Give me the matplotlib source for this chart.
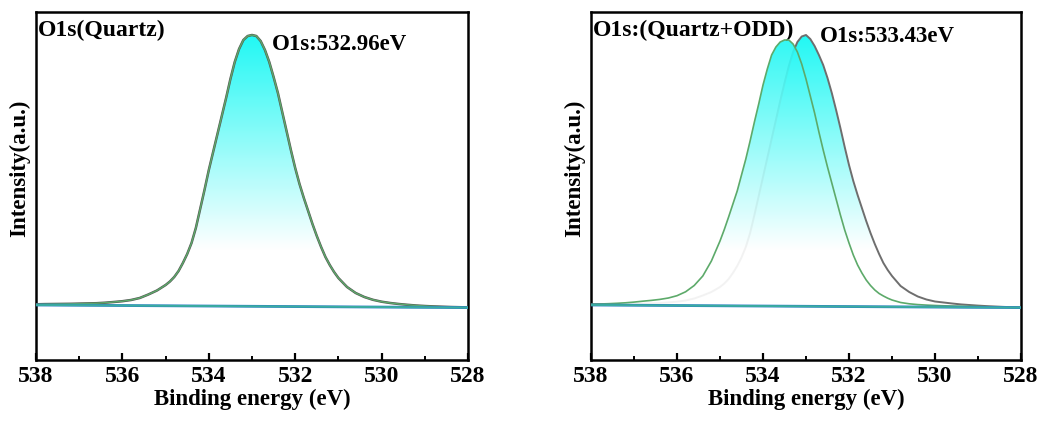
import numpy as np
import matplotlib
matplotlib.use("Agg")
import matplotlib.pyplot as plt
from matplotlib.patches import Polygon
from matplotlib.colors import LinearSegmentedColormap
from matplotlib.ticker import MultipleLocator

plt.rcParams['font.family'] = ['Liberation Serif', 'DejaVu Serif']
plt.rcParams['font.weight'] = 'bold'

# Binding energy grid (eV): 0.2 eV in the tails, 0.1 eV across the peak region
energy = np.concatenate([
    np.round(np.arange(538.0, 535.1, -0.2), 1),   # 538.0 .. 535.2
    np.round(np.arange(535.0, 530.95, -0.1), 1),  # 535.0 .. 531.0
    np.round(np.arange(530.8, 527.9, -0.2), 1),   # 530.8 .. 528.0
])

# Quartz O1s (left panel)
quartz = [0.7, 0.9, 1.0, 1.1, 1.2, 1.4, 1.6, 1.8, 2.3, 3.0, 3.8, 5.0, 7.0, 10.5, 14.5,
          20, 23.5, 28, 34, 42, 51, 62, 77, 96, 115,
          135, 153, 171, 189, 207, 226, 243, 256, 265, 269,
          270, 269, 264, 255, 243, 228, 212, 193, 174, 155,
          137, 121, 107, 94, 81, 69, 58, 48, 40, 33, 27,
          18, 12, 8, 5.2, 3.3, 2.0, 1.0, 0.2, -0.5, -1.0, -1.4, -1.7, -2.0, -2.2, -2.4]

# Quartz+ODD panel: grey curve (~533.0 eV)
odd_grey = [0.7, 0.8, 0.9, 1.0, 1.1, 1.2, 1.4, 1.6, 2.0, 2.6, 3.3, 4.5, 6.5, 9.5, 13,
            18, 21.5, 26, 32, 39, 47.5, 58, 72, 90, 109,
            128, 147, 166, 185, 204, 222, 239, 253, 263, 268.5,
            270, 266, 259, 250, 240, 227, 212, 195, 177, 158,
            140, 124, 110, 97, 84, 72, 61, 51, 42, 35, 29,
            19, 13, 8.5, 5.5, 3.5, 2.5, 1.5, 0.6, 0.0, -0.6, -1.1, -1.5, -1.9, -2.2, -2.4]

# Quartz+ODD panel: green curve (533.43 eV)
odd_green = [0.8, 1.0, 1.3, 1.7, 2.2, 2.9, 3.8, 4.6, 5.6, 7.0, 9.3, 13.2, 19.5, 29, 44,
             64, 75.5, 88, 101, 114, 130, 146, 164, 183, 201,
             220, 236, 250, 258, 263, 265, 265, 261, 253, 241,
             226, 209, 192, 173, 155, 138, 122, 106, 90, 75,
             62, 50, 40, 32, 25, 19.5, 15, 11.5, 9, 6.8, 5,
             2.5, 1.2, 0.4, -0.1, -0.5, -0.8, -1.0, -1.2, -1.4, -1.6, -1.8, -2.0, -2.1, -2.3, -2.4]

# linear background
bg_x = [538.0, 528.0]
bg_y = [0.0, -2.6]

CYAN = '#22F8F4'
GREY = '#555555'
GREEN = '#5DAA6A'
TEAL = '#3AAE9E'


def gradient_fill(ax, x, y, alpha=1.0, zorder=1):
    x = np.asarray(x)
    y = np.asarray(y)
    base = np.interp(x, bg_x[::-1], bg_y[::-1])
    verts = np.vstack([np.column_stack([x, y]), np.column_stack([x[::-1], base[::-1]])])
    poly = Polygon(verts, closed=True, facecolor='none', edgecolor='none')
    ax.add_patch(poly)
    ymax = y.max()
    h = np.linspace(0, ymax, 300)
    t = np.clip((h - 55) / (ymax - 55), 0, 1).reshape(-1, 1)
    cmap = LinearSegmentedColormap.from_list('cw', ['white', CYAN])
    im = ax.imshow(t, cmap=cmap, vmin=0, vmax=1, aspect='auto', origin='lower',
                   extent=[x.min(), x.max(), 0, ymax], alpha=alpha, zorder=zorder,
                   interpolation='bilinear')
    im.set_clip_path(poly)


def style_axes(ax):
    ax.set_xlim(538, 528)
    ax.set_ylim(-54.5, 293)
    ax.xaxis.set_major_locator(MultipleLocator(2))
    ax.xaxis.set_minor_locator(MultipleLocator(1))
    ax.tick_params(axis='x', which='major', direction='in', length=5, width=1.6,
                   labelsize=17, pad=5, top=False)
    ax.tick_params(axis='x', which='minor', direction='in', length=3, width=1.4, top=False)
    ax.set_yticks([])
    for sp in ax.spines.values():
        sp.set_linewidth(1.8)
    ax.set_xlabel('Binding energy (eV)', fontsize=16.5, fontweight='bold', labelpad=1)
    ax.set_ylabel('Intensity(a.u.)', fontsize=16.5, fontweight='bold')
    ax.yaxis.set_label_coords(-0.014, 0.551)


def draw_background(ax):
    ax.plot(bg_x, bg_y, color='#2F7FC8', lw=2.0, zorder=5)
    ax.plot(bg_x, bg_y, color=TEAL, lw=1.3, zorder=6)


fig = plt.figure(figsize=(10.42, 4.21), dpi=100)
ax1 = fig.add_axes([36 / 1042, 1 - 359.5 / 421, 432 / 1042, 347.5 / 421])
ax2 = fig.add_axes([591 / 1042, 1 - 359.5 / 421, 430 / 1042, 347.5 / 421])

# left panel
gradient_fill(ax1, energy, quartz, zorder=1)
ax1.plot(energy, quartz, color=GREY, lw=1.8, zorder=3)
ax1.plot(energy, quartz, color=GREEN, lw=1.0, zorder=4)
draw_background(ax1)
style_axes(ax1)
ax1.text(0.004, 0.93, 'O1s(Quartz)', transform=ax1.transAxes, ha='left', va='baseline',
         fontsize=17, fontweight='bold')
ax1.text(0.546, 0.891, 'O1s:532.96eV', transform=ax1.transAxes, ha='left', va='baseline',
         fontsize=16.5, fontweight='bold')

# right panel
gradient_fill(ax2, energy, odd_grey, zorder=1)
ax2.plot(energy, odd_grey, color='#6E6E6E', lw=1.4, zorder=2)
gradient_fill(ax2, energy, odd_green, alpha=0.92, zorder=3)
ax2.plot(energy, odd_green, color=GREEN, lw=1.2, zorder=4)
draw_background(ax2)
style_axes(ax2)
ax2.text(0.004, 0.93, 'O1s:(Quartz+ODD)', transform=ax2.transAxes, ha='left', va='baseline',
         fontsize=17, fontweight='bold')
ax2.text(0.533, 0.914, 'O1s:533.43eV', transform=ax2.transAxes, ha='left', va='baseline',
         fontsize=16.5, fontweight='bold')

fig.savefig('out.png', dpi=100)
